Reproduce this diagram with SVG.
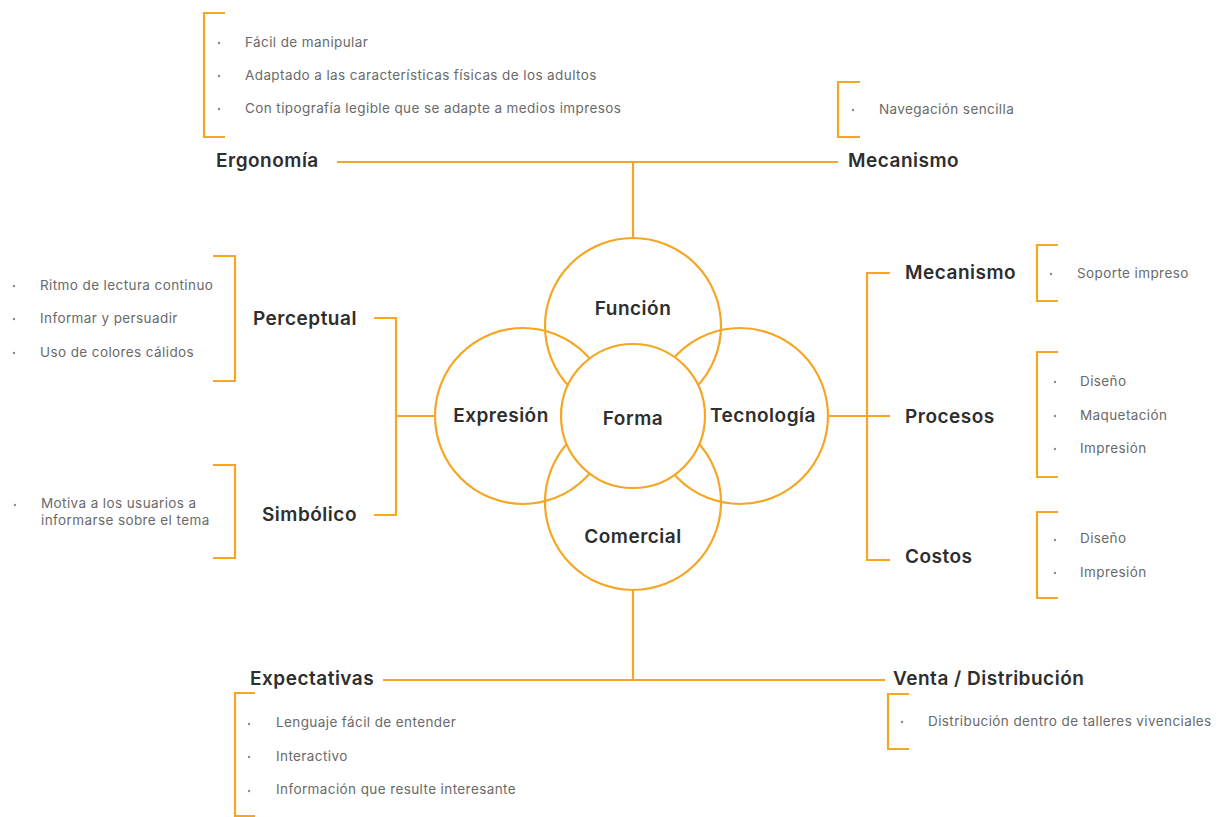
<svg xmlns="http://www.w3.org/2000/svg" width="1229" height="817" viewBox="0 0 1229 817">
<style>
.ln{fill:none;stroke:#F5A623;stroke-width:2.2}
.ci{fill:none;stroke:#F5A623;stroke-width:2.2}
.lb{font-family:Inter,"Noto Sans",sans-serif;font-weight:600;font-size:19px;letter-spacing:0.5px;fill:#2e2e2e}
.it{font-family:Inter,"Noto Sans",sans-serif;font-size:13.5px;letter-spacing:0.4px;fill:#6a6a6a}
.bu{fill:#8a8a8a}
</style>
<rect width="1229" height="817" fill="#ffffff"/>
<g id="connectors">
<path class="ln" d="M633,238 V162 M337,162 H838"/>
<path class="ln" d="M633,590 V680 M383,680 H885"/>
<path class="ln" d="M374,318 H396 V515 H374 M396,416 H435"/>
<path class="ln" d="M828,416 H890 M890,273 H867 V560 H890"/>
<path class="ln" d="M225,13 H204 V137 H225"/>
<path class="ln" d="M860,82 H838 V137 H860"/>
<path class="ln" d="M213,256 H235 V381 H213"/>
<path class="ln" d="M213,465 H235 V558 H213"/>
<path class="ln" d="M1058,245 H1037 V301 H1058"/>
<path class="ln" d="M1058,352 H1037 V477 H1058"/>
<path class="ln" d="M1058,512 H1037 V598 H1058"/>
<path class="ln" d="M255,693 H235 V816 H255"/>
<path class="ln" d="M909,694 H888 V749 H909"/>
</g>
<g id="funcion"><circle class="ci" cx="633" cy="326" r="88"/><text class="lb" x="633" y="315" text-anchor="middle">Función</text></g>
<g id="expresion"><circle class="ci" cx="523" cy="416" r="88"/><text class="lb" x="501" y="422" text-anchor="middle">Expresión</text></g>
<g id="tecnologia"><circle class="ci" cx="740" cy="416" r="88"/><text class="lb" x="763" y="422" text-anchor="middle">Tecnología</text></g>
<g id="comercial"><circle class="ci" cx="633" cy="502" r="88"/><text class="lb" x="633" y="543" text-anchor="middle">Comercial</text></g>
<g id="forma"><circle cx="633" cy="416" r="72" fill="#ffffff" stroke="#F5A623" stroke-width="2.2"/><text class="lb" x="633" y="425" text-anchor="middle">Forma</text></g>
<g id="ergonomia"><text class="lb" x="216" y="167">Ergonomía</text>
<circle class="bu" cx="219" cy="43" r="1.2"/><text class="it" x="245" y="47">Fácil de manipular</text>
<circle class="bu" cx="219" cy="76" r="1.2"/><text class="it" x="245" y="80">Adaptado a las características físicas de los adultos</text>
<circle class="bu" cx="219" cy="109" r="1.2"/><text class="it" x="245" y="113">Con tipografía legible que se adapte a medios impresos</text>
</g>
<g id="mecanismo-top"><text class="lb" x="848" y="167">Mecanismo</text>
<circle class="bu" cx="853" cy="110" r="1.2"/><text class="it" x="879" y="114">Navegación sencilla</text>
</g>
<g id="perceptual"><text class="lb" x="253" y="325">Perceptual</text>
<circle class="bu" cx="14" cy="286" r="1.2"/><text class="it" x="40" y="290">Ritmo de lectura continuo</text>
<circle class="bu" cx="14" cy="319" r="1.2"/><text class="it" x="40" y="323">Informar y persuadir</text>
<circle class="bu" cx="14" cy="353" r="1.2"/><text class="it" x="40" y="357">Uso de colores cálidos</text>
</g>
<g id="simbolico"><text class="lb" x="262" y="521">Simbólico</text>
<circle class="bu" cx="15" cy="505" r="1.2"/><text class="it" x="41" y="508">Motiva a los usuarios a</text><text class="it" x="41" y="525">informarse sobre el tema</text>
</g>
<g id="mecanismo-right"><text class="lb" x="905" y="279">Mecanismo</text>
<circle class="bu" cx="1051" cy="274" r="1.2"/><text class="it" x="1077" y="278">Soporte impreso</text>
</g>
<g id="procesos"><text class="lb" x="905" y="423">Procesos</text>
<circle class="bu" cx="1055" cy="382" r="1.2"/><text class="it" x="1080" y="386">Diseño</text>
<circle class="bu" cx="1055" cy="416" r="1.2"/><text class="it" x="1080" y="420">Maquetación</text>
<circle class="bu" cx="1055" cy="449" r="1.2"/><text class="it" x="1080" y="453">Impresión</text>
</g>
<g id="costos"><text class="lb" x="905" y="563">Costos</text>
<circle class="bu" cx="1055" cy="540" r="1.2"/><text class="it" x="1080" y="543">Diseño</text>
<circle class="bu" cx="1055" cy="573" r="1.2"/><text class="it" x="1080" y="577">Impresión</text>
</g>
<g id="expectativas"><text class="lb" x="250" y="685">Expectativas</text>
<circle class="bu" cx="249" cy="724" r="1.2"/><text class="it" x="276" y="727">Lenguaje fácil de entender</text>
<circle class="bu" cx="249" cy="757" r="1.2"/><text class="it" x="276" y="761">Interactivo</text>
<circle class="bu" cx="249" cy="791" r="1.2"/><text class="it" x="276" y="794">Información que resulte interesante</text>
</g>
<g id="venta"><text class="lb" x="893" y="685">Venta / Distribución</text>
<circle class="bu" cx="902" cy="722" r="1.2"/><text class="it" x="928" y="726">Distribución dentro de talleres vivenciales</text>
</g>
</svg>
